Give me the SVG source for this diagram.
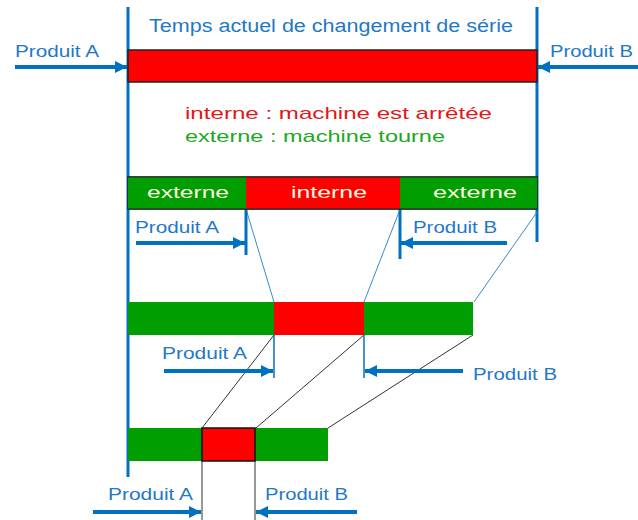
<svg xmlns="http://www.w3.org/2000/svg" width="638" height="520" viewBox="0 0 638 520">
<defs>
<marker id="ah" viewBox="0 0 10 10" refX="10" refY="5" markerWidth="3.2" markerHeight="3" orient="auto" markerUnits="strokeWidth">
<path d="M0,0 L10,5 L0,10 z" fill="#0070c0"/>
</marker>
<style>
text{font-family:"Liberation Sans","DejaVu Sans",sans-serif;}
.lbl{fill:#1f78c8;font-size:16px;}
.title{fill:#1f78c8;font-size:18px;}
.bl{fill:#fffbe0;font-size:17px;}
.arr{stroke:#0070c0;stroke-width:4;fill:none;marker-end:url(#ah);}
.vth{stroke:#0070c0;stroke-width:3;fill:none;}
.vtn{stroke:#0070c0;stroke-width:1.5;fill:none;}
.thin{stroke:#3a8ad0;stroke-width:1;fill:none;}
.blk{stroke:#333;stroke-width:1;fill:none;}
.g{fill:#009e00;}
.r{fill:#ff0000;}
</style>
</defs>
<rect width="638" height="520" fill="#fff"/>

<g id="connectors">
<line class="vth" x1="128" y1="7" x2="128" y2="477"/>
<line class="vth" x1="537" y1="7" x2="537" y2="242"/>
<line class="thin" x1="246" y1="209" x2="274" y2="302"/>
<line class="thin" x1="399" y1="212" x2="364" y2="302"/>
<line class="thin" x1="537" y1="212" x2="474" y2="302"/>
<line class="blk" x1="274" y1="335" x2="202" y2="428"/>
<line class="blk" x1="364" y1="335" x2="256" y2="428"/>
<line class="blk" x1="473" y1="335" x2="328" y2="428"/>
<line class="vth" x1="246" y1="177" x2="246" y2="255"/>
<line class="vth" x1="400" y1="177" x2="400" y2="259"/>
<line class="vtn" x1="274" y1="302" x2="274" y2="378"/>
<line class="vtn" x1="364" y1="302" x2="364" y2="378"/>
<line class="blk" x1="202" y1="461" x2="202" y2="520" stroke-width="1.5"/>
<line class="blk" x1="255" y1="461" x2="255" y2="520" stroke-width="1.5"/>
<line class="arr" x1="15" y1="67" x2="127" y2="67"/>
<line class="arr" x1="638" y1="67" x2="538" y2="67"/>
<line class="arr" x1="136" y1="243" x2="245" y2="243"/>
<line class="arr" x1="507" y1="243" x2="401" y2="243"/>
<line class="arr" x1="164" y1="371" x2="273" y2="371"/>
<line class="arr" x1="463" y1="371" x2="365" y2="371"/>
<line class="arr" x1="93" y1="512" x2="201" y2="512"/>
<line class="arr" x1="357" y1="512" x2="256" y2="512"/>
</g>

<g id="title">
<text class="title" x="149" y="32" textLength="364" lengthAdjust="spacingAndGlyphs">Temps actuel de changement de série</text>
</g>

<g id="bar-total">
<rect x="128" y="50" width="409" height="32" class="r" stroke="#222" stroke-width="1.5"/>
</g>

<g id="legend">
<text x="185" y="119" fill="#e01818" font-size="17" textLength="307" lengthAdjust="spacingAndGlyphs">interne : machine est arrêtée</text>
<text x="185" y="142" fill="#1ea81e" font-size="17" textLength="260" lengthAdjust="spacingAndGlyphs">externe : machine tourne</text>
</g>

<g id="bar-1">
<rect x="128" y="177" width="409" height="32" fill="none" stroke="#222" stroke-width="1.5"/>
<rect x="128" y="177" width="118" height="32" class="g"/>
<rect x="246" y="177" width="154" height="32" class="r"/>
<rect x="400" y="177" width="137" height="32" class="g"/>
<line x1="128" y1="177" x2="537" y2="177" stroke="#222" stroke-width="1.2"/>
<line x1="128" y1="209" x2="537" y2="209" stroke="#222" stroke-width="1.2"/>
<text class="bl" x="147" y="198" textLength="82" lengthAdjust="spacingAndGlyphs">externe</text>
<text class="bl" x="291" y="198" textLength="76" lengthAdjust="spacingAndGlyphs">interne</text>
<text class="bl" x="433" y="198" textLength="84" lengthAdjust="spacingAndGlyphs">externe</text>
</g>

<g id="bar-2">
<rect x="128" y="302" width="146" height="33" class="g"/>
<rect x="274" y="302" width="90" height="33" class="r"/>
<rect x="364" y="302" width="109" height="33" class="g"/>
</g>

<g id="bar-3">
<rect x="128" y="428" width="200" height="33" class="g"/>
<rect x="202" y="428" width="53" height="33" class="r" stroke="#111" stroke-width="1.5"/>
</g>

<g id="labels">
<text class="lbl" x="15" y="57" textLength="84" lengthAdjust="spacingAndGlyphs">Produit A</text>
<text class="lbl" x="550" y="57" textLength="83" lengthAdjust="spacingAndGlyphs">Produit B</text>
<text class="lbl" x="135" y="233" textLength="84" lengthAdjust="spacingAndGlyphs">Produit A</text>
<text class="lbl" x="413" y="233" textLength="84" lengthAdjust="spacingAndGlyphs">Produit B</text>
<text class="lbl" x="162" y="359" textLength="85" lengthAdjust="spacingAndGlyphs">Produit A</text>
<text class="lbl" x="473" y="380" textLength="84" lengthAdjust="spacingAndGlyphs">Produit B</text>
<text class="lbl" x="108" y="500" textLength="85" lengthAdjust="spacingAndGlyphs">Produit A</text>
<text class="lbl" x="265" y="500" textLength="83" lengthAdjust="spacingAndGlyphs">Produit B</text>
</g>
</svg>
